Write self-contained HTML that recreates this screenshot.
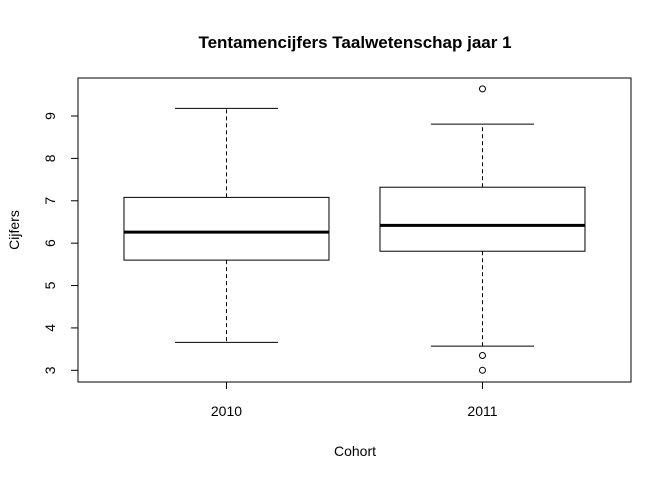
<!DOCTYPE html>
<html><head><meta charset="utf-8"><style>
body{margin:0;background:#fff}
svg{display:block;font-family:"Liberation Sans",Arial,sans-serif}
</style></head><body>
<svg id="chart" width="672" height="480">
<text x="355" y="48" text-anchor="middle" font-size="17" font-weight="bold">Tentamencijfers Taalwetenschap jaar 1</text>
<text x="355" y="456" text-anchor="middle" font-size="14">Cohort</text>
<text transform="translate(19,230) rotate(-90)" text-anchor="middle" font-size="14">Cijfers</text>
<rect x="78" y="78" width="553" height="304" fill="none" stroke="#000" stroke-width="1"/>
<g id="yaxis"></g>
<g id="xaxis"></g>
<g id="boxes"></g>
</svg>
<script>
const categories=["2010","2011"];
const q1=[5.60,5.81];
const medians=[6.26,6.42];
const q3=[7.08,7.32];
const whiskerLow=[3.66,3.57];
const whiskerHigh=[9.18,8.81];
const outliers=[[],[9.64,3.35,3.0]];
const yTicks=[3,4,5,6,7,8,9];

const NS="http://www.w3.org/2000/svg";
function y(v){return 370.3-(v-3)*42.38;}
function x(i){return 78+(i+1-0.42)*256;}
function mk(tag,attrs,parent){const e=document.createElementNS(NS,tag);for(const k in attrs)e.setAttribute(k,attrs[k]);parent.appendChild(e);return e;}
const ya=document.getElementById('yaxis'),xa=document.getElementById('xaxis'),bx=document.getElementById('boxes');
mk('line',{x1:78,x2:78,y1:y(3),y2:y(9),stroke:'#000'},ya);
yTicks.forEach(t=>{
  const l=mk('line',{x1:71,x2:78,y1:y(t),y2:y(t),stroke:'#000'},ya);
  
  
  const tx=mk('text',{transform:`translate(55,${y(t)}) rotate(-90)`,'text-anchor':'middle','font-size':14},ya);
  tx.textContent=t;
  
  
});
mk('line',{x1:x(0),x2:x(1),y1:382,y2:382,stroke:'#000'},xa);
categories.forEach((c,i)=>{
  const cx=x(i);
  const l=mk('line',{x1:cx,x2:cx,y1:382,y2:389,stroke:'#000'},xa);
  
  
  const tx=mk('text',{x:cx,y:416,'text-anchor':'middle','font-size':14},xa);
  tx.textContent=c;
  
  
  const g=mk('g',{},bx);
  
  
  const hw=102.5,sw=51.5;
  mk('line',{x1:cx,x2:cx,y1:y(q3[i]),y2:y(whiskerHigh[i]),stroke:'#000','stroke-dasharray':'4,3'},g);
  mk('line',{x1:cx,x2:cx,y1:y(q1[i]),y2:y(whiskerLow[i]),stroke:'#000','stroke-dasharray':'4,3'},g);
  mk('line',{x1:cx-sw,x2:cx+sw,y1:y(whiskerHigh[i]),y2:y(whiskerHigh[i]),stroke:'#000'},g);
  mk('line',{x1:cx-sw,x2:cx+sw,y1:y(whiskerLow[i]),y2:y(whiskerLow[i]),stroke:'#000'},g);
  mk('rect',{x:cx-hw,y:y(q3[i]),width:2*hw,height:y(q1[i])-y(q3[i]),fill:'#fff',stroke:'#000'},g);
  mk('line',{x1:cx-hw,x2:cx+hw,y1:y(medians[i]),y2:y(medians[i]),stroke:'#000','stroke-width':3},g);
  outliers[i].forEach(o=>{
    const p=mk('circle',{cx:cx,cy:y(o),r:3,fill:'none',stroke:'#000'},g);
    
    
  });
});
</script>
</body></html>
